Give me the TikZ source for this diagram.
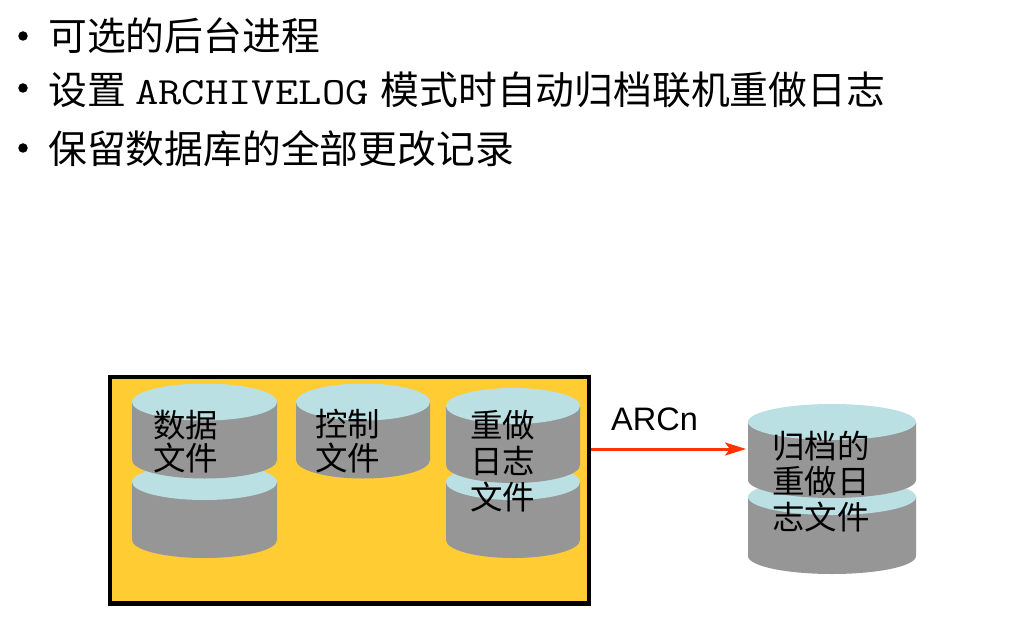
\documentclass[tikz,border=0pt]{standalone}
\usepackage{fontspec}
\setmainfont{Noto Sans CJK SC}
\newfontfamily\latinsans{Liberation Sans}
\newfontfamily\latinmono[FakeStretch=1.175]{Latin Modern Mono}
\usetikzlibrary{arrows.meta}
\definecolor{framefill}{HTML}{FFCC33}
\definecolor{cyltop}{HTML}{BBE0E3}
\definecolor{cylbody}{HTML}{969696}
\definecolor{arrowred}{HTML}{FF3300}
\newcommand{\drumshape}[5]{%
  % left, right, top-centre y, bottom-centre y, radius y
  \fill[cylbody] (#1,#3) -- (#1,#4) arc[start angle=180,end angle=0,x radius={(#2-#1)/2},y radius=#5] -- (#2,#3) -- cycle;
  \fill[cyltop] ({(#1+#2)/2},#3) ellipse[x radius={(#2-#1)/2},y radius=#5];
}
\tikzset{
  x=1pt,y=-1pt,
  bullettext/.style={anchor=base west,inner sep=0pt,font=\fontsize{38.8}{38.8}\selectfont,text=black},
  bulletmark/.style={circle,fill=black,inner sep=0pt,minimum size=9.5pt},
  disktext/.style={anchor=base west,inner sep=0pt,font=\fontsize{32.5}{32.5}\selectfont,text=black},
  framebox/.style={draw=black,fill=framefill,line width=4.5pt,inner sep=0pt,minimum width=479pt,minimum height=226.5pt},
  flowarrow/.style={draw=arrowred,line width=3pt,-{Stealth[length=21pt,width=13pt,inset=5pt]}},
  arclabel/.style={anchor=base west,inner sep=0pt,font=\latinsans\fontsize{32.5}{32.5}\selectfont,text=black}
}
\begin{document}
\begin{tikzpicture}
\useasboundingbox (0,0) rectangle (1024,620);
\fill[white] (0,0) rectangle (1024,620);
% bullets
\node[bulletmark] (b1) at (23,36) {};
\node[bulletmark] (b2) at (23,88) {};
\node[bulletmark] (b3) at (23,148) {};
\node[bullettext] (l1) at (48,50.7) {可选的后台进程};
\node[bullettext] (l2a) at (48,104.5) {设置};
\node[bullettext,font=\latinmono\fontsize{38.6}{38.6}\selectfont] (l2b) at (135,104.5) {ARCHIVELOG};
\node[bullettext] (l2c) at (380.5,104.5) {模式时自动归档联机重做日志};
\node[bullettext] (l3) at (48,163.7) {保留数据库的全部更改记录};
% frame
\node[framebox] (frame) at (349.5,490) {};
% drums (lower first)
\drumshape{132}{277}{482}{540}{18}
\drumshape{132}{277}{402}{460}{18.5}
\drumshape{296}{430}{402}{460}{18.5}
\drumshape{446}{580}{482}{540}{18}
\drumshape{446}{580}{406}{465}{18}
\drumshape{748}{916}{497}{556}{18}
\drumshape{748}{916}{422}{480}{18}
% disk labels
\node[disktext] (d1a) at (153,437) {数据};
\node[disktext] (d1b) at (153,470) {文件};
\node[disktext] (d2a) at (315,436) {控制};
\node[disktext] (d2b) at (315,470) {文件};
\node[disktext] (d3a) at (470,437) {重做};
\node[disktext] (d3b) at (470,473) {日志};
\node[disktext] (d3c) at (470,509) {文件};
\node[disktext] (a1) at (772,458) {归档的};
\node[disktext] (a2) at (772,493) {重做日};
\node[disktext] (a3) at (772,529) {志文件};
% arrow
\coordinate (archivein) at (746,449);
\draw[flowarrow] (frame.east |- archivein) -- (archivein);
\node[arclabel] (arc) at (611,430) {ARCn};
\end{tikzpicture}
\end{document}
